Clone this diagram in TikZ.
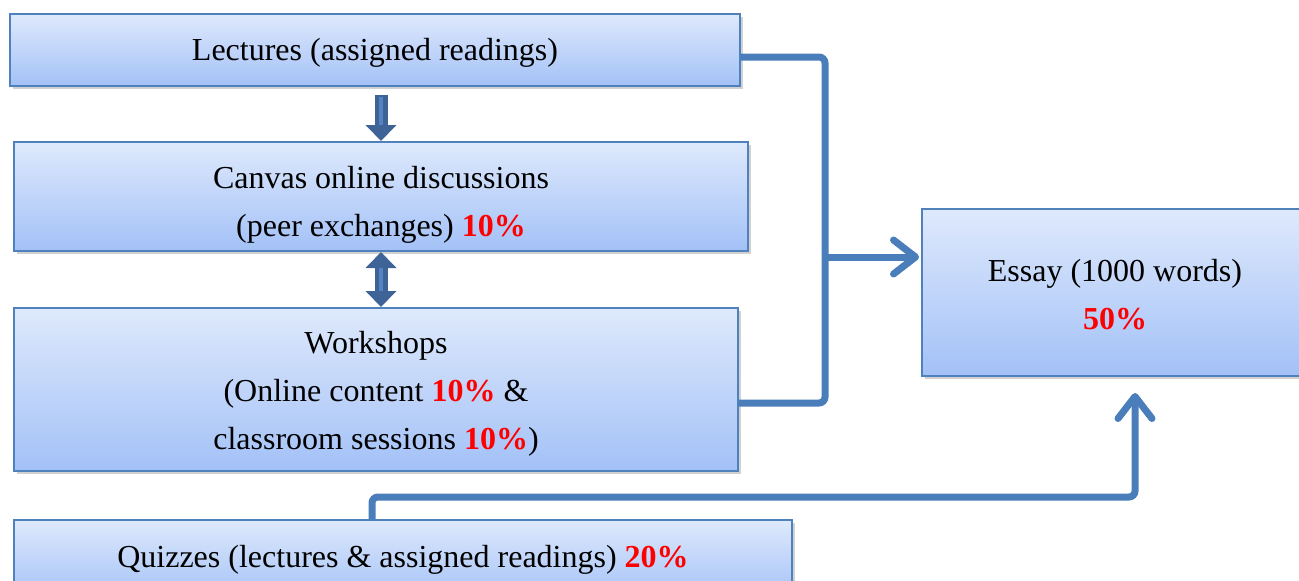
\documentclass[tikz,border=0pt]{standalone}
\usepackage{fontspec}
\setmainfont{Liberation Serif}
\usetikzlibrary{arrows.meta,shadows}
\definecolor{boxedge}{RGB}{79,129,189}
\definecolor{boxtop}{RGB}{222,233,252}
\definecolor{boxbot}{RGB}{163,193,247}
\definecolor{linkblue}{RGB}{74,126,187}
\definecolor{blockdark}{RGB}{62,100,151}
\definecolor{blocklight}{RGB}{84,131,194}
\newcommand{\pct}[1]{\textcolor{red}{\textbf{#1}}}

\begin{document}
\begin{tikzpicture}[x=0.5pt,y=-0.5pt,
  box/.style={draw=boxedge,line width=1pt,top color=boxtop,bottom color=boxbot,inner sep=0pt,
    drop shadow={shadow xshift=1.5pt,shadow yshift=-1.5pt,opacity=0.3,fill=black!60}},
  txt/.style={align=center,inner sep=0pt,font=\fontsize{16}{24}\selectfont},
  link/.style={draw=linkblue,line width=3.5pt,rounded corners=3pt},
  tip/.style={-{Straight Barb[length=11pt,width=17pt,round]}},
  blockarr/.style={draw=blockdark,line width=6.5pt,-{Triangle[length=8pt,width=15pt]}},
  blockdbl/.style={draw=blockdark,line width=6.5pt,{Triangle[length=8pt,width=15pt]}-{Triangle[length=8pt,width=15pt]}}]
\useasboundingbox (0,0) rectangle (1299,580);

%Shape: Rectangle [lect]
\node (lect) at (375,50) [box,minimum width=365pt,minimum height=36pt,
  label={[txt,yshift=-1.5pt]center:{Lectures (assigned readings)}}] {};
%Shape: Rectangle [canvas]
\node (canvas) at (381,196.5) [box,minimum width=367pt,minimum height=54.5pt,
  label={[txt,yshift=-4pt]center:{Canvas online discussions\\(peer exchanges) \pct{10\%}}}] {};
%Shape: Rectangle [work]
\node (work) at (376,389.5) [box,minimum width=362pt,minimum height=81.5pt,
  label={[txt,yshift=-2.25pt]center:{Workshops\\(Online content \pct{10\%} \&\\classroom sessions \pct{10\%})}}] {};
%Shape: Rectangle [quiz]
\node (quiz) at (403,560) [box,minimum width=389pt,minimum height=40pt,
  label={[txt]center:{Quizzes (lectures \& assigned readings) \pct{20\%}}}] {};
%Shape: Rectangle [essay]
\node (essay) at (1115,292.5) [box,minimum width=193pt,minimum height=83.5pt,
  label={[txt,yshift=-1.25pt]center:{Essay (1000 words)\\\pct{50\%}}}] {};

%Block Arrows
\draw [blockarr] ([yshift=-4pt]lect.south -| canvas.north) -- (canvas.north);
\draw [draw=blocklight,line width=2pt] ([yshift=-5pt]lect.south -| canvas.north) -- ([yshift=8pt]canvas.north);
\draw [blockdbl] (canvas.south) -- (work.north -| canvas.south);
\draw [draw=blocklight,line width=2pt] ([yshift=-8pt]canvas.south) -- ([yshift=8pt]work.north -| canvas.south);

%Connectors
\coordinate (bus) at (825,403);
\coordinate (ein) at ([yshift=17.75pt]essay.west);
\draw [link] ([yshift=-3.5pt]lect.east) -| (bus) -- (bus -| work.east);
\draw [link,tip] (bus |- ein) -- ([xshift=-1pt]ein);

\coordinate (qout) at ([xshift=-15.5pt]quiz.north);
\coordinate (ein2) at ([xshift=10pt,yshift=-8pt]essay.south);
\draw [link,tip] (qout) -- ++(0,-22) -| (ein2);
\end{tikzpicture}
\end{document}
